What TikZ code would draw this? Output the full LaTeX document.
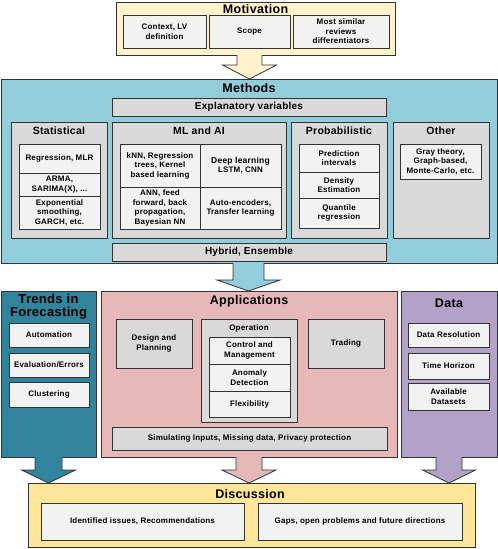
\documentclass[tikz,border=0pt]{standalone}
\usepackage{fontspec}
\setmainfont{Liberation Sans}[LetterSpace=2.5]
\usetikzlibrary{calc}
\definecolor{motivc}{HTML}{FFF2CC}
\definecolor{discc}{HTML}{FFE699}
\definecolor{methc}{HTML}{92CDDC}
\definecolor{trendc}{HTML}{31849B}
\definecolor{appc}{HTML}{E6B9B8}
\definecolor{datac}{HTML}{B3A2C7}
\definecolor{grayc}{HTML}{D9D9D9}
\definecolor{lightc}{HTML}{F2F2F2}
\definecolor{edgec}{HTML}{333333}
\newcommand\bx[7]{\node[#1, anchor=north west, minimum width={(#5-#3)*1pt}, minimum height={(#6-#4)*1pt}] (#2) at (#3,#4) {#7};}
\newcommand\blockarrow[6]{\filldraw[bord, fill=#1] ($(#2)+(-#3,0)$) -- ++(0,#4) -- ++({-(#5-#3)},0) -- ++(#5,#6) -- ++(#5,-#6) -- ++({-(#5-#3)},0) -- ++(0,-#4);}
\begin{document}
\begin{tikzpicture}[x=1pt,y=-1pt,
  bord/.style={draw=edgec, line width=0.8pt},
  base/.style={bord, inner sep=0pt, outer sep=0pt, align=center, font=\bfseries\fontsize{8}{9.5}\selectfont},
  graybox/.style={base, fill=grayc},
  lightbox/.style={base, fill=lightc},
  title/.style={font=\bfseries\fontsize{12.5}{13.5}\selectfont, align=center, inner sep=0pt},
  subtitle/.style={font=\bfseries\fontsize{10.5}{12}\selectfont, align=center, inner sep=0pt},
  midtitle/.style={font=\bfseries\fontsize{8}{9.5}\selectfont, align=center, inner sep=0pt}]
\useasboundingbox (0,0) rectangle (498,549);
\fill[white] (0,0) rectangle (498,549);
% Motivation
\bx{base, fill=motivc}{motiv}{116}{2}{395}{55}{}
\node[title] (motivt) at (255.5,9) {Motivation};
\bx{lightbox}{m1}{123}{15}{206}{48}{Context, LV\\definition}
\bx{lightbox}{m2}{209}{15}{290}{48}{Scope}
\bx{lightbox}{m3}{293}{15}{389}{48}{Most similar\\reviews\\differentiators}
% Methods
\bx{base, fill=methc}{meth}{1}{79}{497}{263}{}
\node[title] (metht) at (249,88.5) {Methods};
\bx{graybox, font=\bfseries\fontsize{10}{12}\selectfont}{expl}{112}{98}{386}{116}{Explanatory variables}
\bx{graybox}{stat}{11}{122}{107}{238}{}
\node[subtitle] (statt) at (59,131) {Statistical};
\bx{lightbox}{s1}{19}{144}{100}{173}{Regression, MLR}
\bx{lightbox}{s2}{19}{173}{100}{196}{ARMA,\\SARIMA(X), ...}
\bx{lightbox}{s3}{19}{196}{100}{229}{Exponential\\smoothing,\\GARCH, etc.}
\bx{graybox}{ml}{112}{122}{286}{238}{}
\node[subtitle] (mlt) at (199,131) {ML and AI};
\bx{lightbox}{ml1}{120}{144}{200}{187}{kNN, Regression\\trees, Kernel\\based learning}
\bx{lightbox}{ml2}{200}{144}{281}{187}{{\fontsize{8.5}{9.5}\selectfont Deep learning}\\LSTM, CNN}
\bx{lightbox}{ml3}{120}{187}{200}{229}{ANN, feed\\forward, back\\propagation,\\Bayesian NN}
\bx{lightbox}{ml4}{200}{187}{281}{229}{Auto-encoders,\\Transfer learning}
\bx{graybox}{prob}{291}{122}{387}{238}{}
\node[subtitle] (probt) at (339,131) {Probabilistic};
\bx{lightbox}{p1}{299}{144}{379}{172}{Prediction\\intervals}
\bx{lightbox}{p2}{299}{172}{379}{198}{Density\\Estimation}
\bx{lightbox}{p3}{299}{198}{379}{228}{Quantile\\regression}
\bx{graybox}{other}{393}{122}{489}{238}{}
\node[subtitle] (othert) at (441,131) {Other};
\bx{lightbox}{o1}{400}{144}{481}{179}{Gray theory,\\Graph-based,\\Monte-Carlo, etc.}
\bx{graybox, font=\bfseries\fontsize{10}{12}\selectfont}{hyb}{112}{243}{386}{261}{Hybrid, Ensemble}
% Trends
\bx{base, fill=trendc}{trend}{1}{291}{96}{457}{}
\node[title, font=\bfseries\fontsize{13}{13.5}\selectfont] (trendt) at (48.5,306.5) {Trends in\\Forecasting};
\bx{lightbox}{t1}{9}{323}{89}{347}{Automation}
\bx{lightbox}{t2}{9}{353}{89}{377}{Evaluation/Errors}
\bx{lightbox}{t3}{9}{382}{89}{407}{Clustering}
% Applications
\bx{base, fill=appc}{app}{101}{291}{397}{457}{}
\node[title] (appt) at (249,301) {Applications};
\bx{graybox}{design}{116}{319}{192}{368}{Design and\\Planning}
\bx{graybox}{oper}{201}{319}{297}{422}{}
\node[midtitle] (opert) at (249,328.5) {Operation};
\bx{lightbox}{op1}{209}{337}{290}{364}{Control and\\Management}
\bx{lightbox}{op2}{209}{364}{290}{391}{Anomaly\\Detection}
\bx{lightbox}{op3}{209}{391}{290}{417}{Flexibility}
\bx{graybox}{trading}{308}{319}{384}{368}{Trading}
\bx{graybox}{sim}{112}{427}{387}{450}{Simulating Inputs, Missing data, Privacy protection}
% Data
\bx{base, fill=datac}{data}{401}{291}{497}{457}{}
\node[title] (datat) at (449,303) {Data};
\bx{lightbox}{d1}{408}{323}{489}{347}{Data Resolution}
\bx{lightbox}{d2}{408}{353}{489}{379}{Time Horizon}
\bx{lightbox}{d3}{408}{383}{489}{410}{Available\\Datasets}
% Discussion
\bx{base, fill=discc}{disc}{28}{483}{475}{547}{}
\node[title] (disct) at (250,494) {Discussion};
\bx{lightbox}{dis1}{41}{503}{244}{540}{Identified issues, Recommendations}
\bx{lightbox}{dis2}{258}{503}{462}{540}{Gaps, open problems and future directions}
% block arrows
\coordinate (a1) at (249.5,55);
\coordinate (a2) at (248.5,263);
\coordinate (a3) at (48.5,457);
\coordinate (a4) at (249,457);
\coordinate (a5) at (449,457);
\blockarrow{motivc}{a1}{12.5}{10}{27}{14}
\blockarrow{methc}{a2}{15.5}{17}{31.5}{11}
\blockarrow{trendc}{a3}{13.5}{13}{27}{13}
\blockarrow{appc}{a4}{13}{13}{27}{13}
\blockarrow{datac}{a5}{13}{13}{26.5}{13}
\end{tikzpicture}
\end{document}
